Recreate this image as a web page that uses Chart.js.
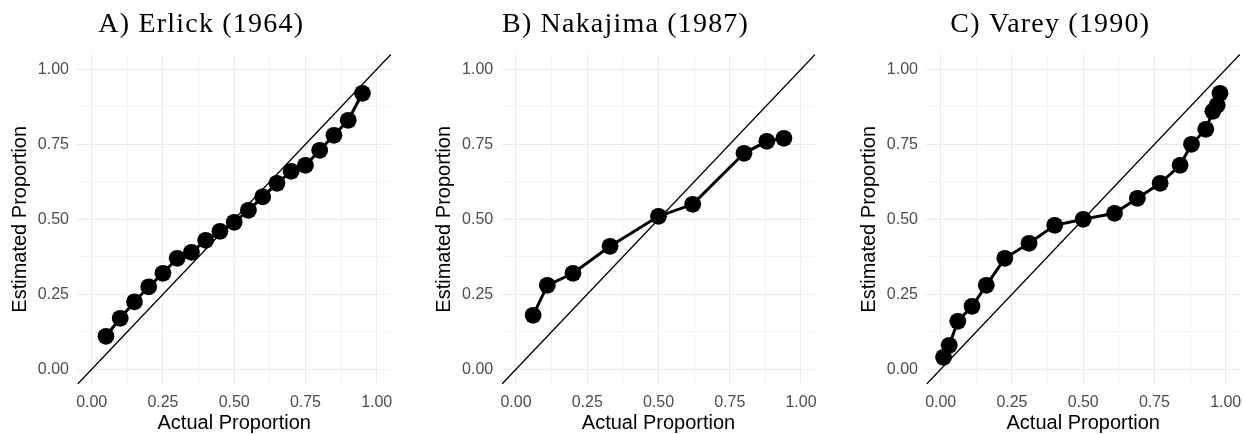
<!DOCTYPE html>
<html><head><meta charset="utf-8">
<script src="https://cdn.jsdelivr.net/npm/chart.js@4.4.1/dist/chart.umd.min.js"></script>
<style>
html,body{margin:0;padding:0;background:#fff;}
#wrap{position:relative;width:1243px;height:434px;overflow:hidden;background:#fff}
canvas{position:absolute;top:0}
</style>
</head><body><div id="wrap">
<canvas id="cA" width="394" height="434" style="left:0px"></canvas>
<canvas id="cB" width="394" height="434" style="left:424px"></canvas>
<canvas id="cC" width="394" height="434" style="left:849px"></canvas>
</div>
<script>
// ---- data ----
const panelTitles = ['A) Erlick (1964)', 'B) Nakajima (1987)', 'C) Varey (1990)'];
const xAxisTitle = 'Actual Proportion';
const yAxisTitle = 'Estimated Proportion';

const erlickActual    = [0.05, 0.10, 0.15, 0.20, 0.25, 0.30, 0.35, 0.40, 0.45, 0.50, 0.55, 0.60, 0.65, 0.70, 0.75, 0.80, 0.85, 0.90, 0.95];
const erlickEstimated = [0.11, 0.17, 0.225, 0.275, 0.32, 0.37, 0.39, 0.43, 0.46, 0.49, 0.53, 0.575, 0.62, 0.66, 0.68, 0.73, 0.78, 0.83, 0.92];

const nakajimaActual    = [0.06, 0.11, 0.20, 0.33, 0.50, 0.62, 0.80, 0.88, 0.94];
const nakajimaEstimated = [0.18, 0.28, 0.32, 0.41, 0.51, 0.55, 0.72, 0.76, 0.77];

const vareyActual    = [0.01, 0.03, 0.06, 0.11, 0.16, 0.225, 0.31, 0.40, 0.50, 0.61, 0.69, 0.77, 0.84, 0.88, 0.93, 0.955, 0.97, 0.98];
const vareyEstimated = [0.04, 0.08, 0.16, 0.21, 0.28, 0.37, 0.42, 0.48, 0.50, 0.52, 0.57, 0.62, 0.68, 0.75, 0.80, 0.86, 0.88, 0.92];

const majorTicks = [0, 0.25, 0.5, 0.75, 1];
const minorTicks = [0.125, 0.375, 0.625, 0.875];
const tickLabels = ['0.00', '0.25', '0.50', '0.75', '1.00'];
const AXIS_MIN = -0.05, AXIS_MAX = 1.05;

// ---- layout (page px) ----
const panels = [
  {id:'cA', left:0,   areaLeft:77.45,  areaRight:390.95, xs:erlickActual,   ys:erlickEstimated,   title:panelTitles[0]},
  {id:'cB', left:424, areaLeft:501.75, areaRight:815.25, xs:nakajimaActual, ys:nakajimaEstimated, title:panelTitles[1]},
  {id:'cC', left:849, areaLeft:926.45, areaRight:1239.95,xs:vareyActual,    ys:vareyEstimated,    title:panelTitles[2]}
];
const CANVAS_W = 394;
const AREA_TOP = 54.3, X_AXIS_H = 49.7;

const allTicks = majorTicks.concat(minorTicks).sort((a,b)=>a-b);
const isMajor = v => majorTicks.some(m => Math.abs(m - v) < 1e-9);
const labelFor = v => { const i = majorTicks.findIndex(m => Math.abs(m - v) < 1e-9); return i >= 0 ? tickLabels[i] : ''; };

const titlePlugin = {
  id: 'panelTitle',
  afterDraw(chart, args, opts) {
    const ctx = chart.ctx;
    ctx.save();
    ctx.font = '28px "Liberation Serif", "Times New Roman", serif';
    ctx.fillStyle = '#000';
    ctx.textAlign = 'center';
    ctx.textBaseline = 'alphabetic';
    if ('letterSpacing' in ctx) ctx.letterSpacing = '1.2px';
    ctx.fillText(opts.text, chart.chartArea.left + 123.8, 31.7);
    ctx.restore();
  }
};

const sans = '"Liberation Sans", Arial, Helvetica, sans-serif';

function scaleOpts(isX, yW) {
  return {
    type: 'linear',
    min: AXIS_MIN, max: AXIS_MAX,
    border: {display: false},
    afterBuildTicks(scale) { scale.ticks = allTicks.map(v => ({value: v})); },
    afterFit(scale) {
      if (isX) scale.height = X_AXIS_H; else scale.width = yW;
      scale.paddingLeft = 0; scale.paddingRight = 0;
      scale.paddingTop = 0; scale.paddingBottom = 0;
    },
    grid: {
      color: '#ebebeb',
      lineWidth: c => (c.tick && isMajor(c.tick.value)) ? 1.07 : 0.55,
      drawTicks: false,
      drawOnChartArea: true
    },
    ticks: {
      autoSkip: false, maxRotation: 0, minRotation: 0,
      color: '#4d4d4d',
      font: {family: sans, size: 16},
      padding: isX ? 9 : 8.5,
      callback: v => labelFor(v)
    },
    title: {
      display: true,
      text: isX ? xAxisTitle : yAxisTitle,
      color: '#000',
      font: {family: sans, size: 20, lineHeight: 1},
      padding: isX ? {top: 0, bottom: 0.3} : {top: 10.3, bottom: 0}
    }
  };
}

panels.forEach(p => {
  const yW = p.areaLeft - p.left;
  const padRight = p.left + CANVAS_W - p.areaRight;
  const pts = p.xs.map((x, i) => ({x: x, y: p.ys[i]}));
  new Chart(document.getElementById(p.id), {
    type: 'scatter',
    data: {
      datasets: [
        {
          data: pts,
          showLine: true,
          borderColor: '#000',
          backgroundColor: '#000',
          borderWidth: 3,
          pointRadius: 8.4,
          pointHoverRadius: 8.4,
          pointBackgroundColor: '#000',
          pointBorderWidth: 0,
          tension: 0,
          order: 1
        },
        {
          data: [{x: AXIS_MIN, y: AXIS_MIN}, {x: AXIS_MAX, y: AXIS_MAX}],
          showLine: true,
          borderColor: '#000',
          borderWidth: 1.3,
          pointRadius: 0,
          pointHoverRadius: 0,
          order: 2
        }
      ]
    },
    options: {
      responsive: false,
      animation: false,
      devicePixelRatio: 1,
      layout: {autoPadding: false, padding: {top: AREA_TOP, right: padRight, left: 0, bottom: 0}},
      plugins: {
        legend: {display: false},
        tooltip: {enabled: false},
        panelTitle: {text: p.title}
      },
      scales: {
        x: scaleOpts(true, yW),
        y: scaleOpts(false, yW)
      }
    },
    plugins: [titlePlugin]
  });
});
</script>
</body></html>
